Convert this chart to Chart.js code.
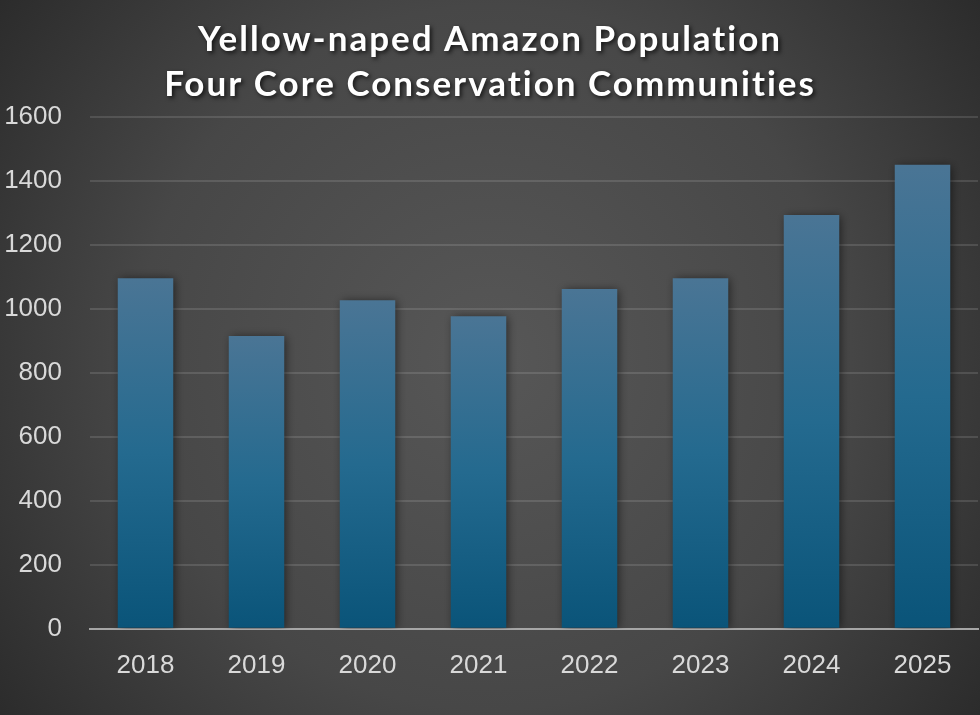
<!DOCTYPE html>
<html>
<head>
<meta charset="utf-8">
<script src="https://cdn.jsdelivr.net/npm/chart.js@4.4.1/dist/chart.umd.min.js"></script>
<style>
  html, body { margin: 0; padding: 0; background: #2a2a2a; }
  #wrap { width: 980px; height: 715px; }
</style>
</head>
<body>
<div id="wrap"><canvas id="c" width="980" height="715"></canvas></div>
<script>
const categories = ['2018', '2019', '2020', '2021', '2022', '2023', '2024', '2025'];
const populationValues = [1096, 915, 1027, 977, 1062, 1096, 1294, 1451];
const titleLines = ['Yellow-naped Amazon Population', 'Four Core Conservation Communities'];
const yTickMax = 1600;
const yTickStep = 200;

const bgPlugin = {
  id: 'bg',
  beforeDraw(chart) {
    const ctx = chart.ctx;
    const w = chart.width, h = chart.height;
    ctx.save();
    const g = ctx.createRadialGradient(w / 2, h / 2, 0, w / 2, h / 2, 640);
    g.addColorStop(0, '#575757');
    g.addColorStop(0.55, '#474747');
    g.addColorStop(1, '#282828');
    ctx.fillStyle = g;
    ctx.fillRect(0, 0, w, h);
    ctx.restore();
  }
};

const titlePlugin = {
  id: 'customTitle',
  afterDraw(chart) {
    const ctx = chart.ctx;
    ctx.save();
    ctx.font = 'bold 35px Lato, "Open Sans", sans-serif';
    ctx.textAlign = 'center';
    ctx.textBaseline = 'middle';
    if ('letterSpacing' in ctx) ctx.letterSpacing = '2px';
    ctx.fillStyle = '#ffffff';
    ctx.shadowColor = 'rgba(0,0,0,0.7)';
    ctx.shadowBlur = 4;
    ctx.shadowOffsetX = 2;
    ctx.shadowOffsetY = 2;
    ctx.fillText(titleLines[0], chart.width / 2, 40);
    ctx.fillText(titleLines[1], chart.width / 2, 85);
    ctx.restore();
  }
};

const shadowPlugin = {
  id: 'barShadow',
  beforeDatasetsDraw(chart) {
    const ctx = chart.ctx;
    ctx.save();
    ctx.shadowColor = 'rgba(0,0,0,0.55)';
    ctx.shadowBlur = 9;
    ctx.shadowOffsetX = 2;
    ctx.shadowOffsetY = 1;
  },
  afterDatasetsDraw(chart) {
    chart.ctx.restore();
  }
};

function barGradient(context) {
  const chart = context.chart;
  const ys = chart.scales && chart.scales.y;
  if (!ys || context.raw == null) return '#1e6187';
  const top = ys.getPixelForValue(context.raw);
  const base = ys.getPixelForValue(0);
  if (!isFinite(top) || !isFinite(base) || top === base) return '#1e6187';
  const g = chart.ctx.createLinearGradient(0, top, 0, base);
  g.addColorStop(0, '#4a7595');
  g.addColorStop(0.5, '#246a8f');
  g.addColorStop(1, '#0a5479');
  return g;
}

new Chart(document.getElementById('c'), {
  type: 'bar',
  data: {
    labels: categories,
    datasets: [{
      label: 'Population',
      data: populationValues,
      backgroundColor: barGradient,
      borderWidth: 0,
      categoryPercentage: 1.0,
      barPercentage: 0.5
    }]
  },
  options: {
    responsive: false,
    animation: false,
    layout: { padding: { top: 117, left: 6, right: 2, bottom: 13 } },
    plugins: {
      legend: { display: false },
      title: { display: false },
      tooltip: { enabled: false }
    },
    scales: {
      x: {
        grid: { display: false, drawTicks: false },
        border: { display: true, color: '#a6a6a6', width: 2 },
        ticks: {
          color: '#d9d9d9',
          font: { family: '"Liberation Sans", Arial, sans-serif', size: 26 },
          padding: 21
        }
      },
      y: {
        min: 0,
        max: yTickMax,
        afterFit: (scale) => { scale.width = 84; },
        grid: { color: 'rgba(255,255,255,0.12)', lineWidth: 2, drawTicks: false },
        border: { display: false },
        ticks: {
          stepSize: yTickStep,
          color: '#d9d9d9',
          font: { family: '"Liberation Sans", Arial, sans-serif', size: 26 },
          padding: 28,
          callback: (v) => String(v)
        }
      }
    }
  },
  plugins: [bgPlugin, shadowPlugin, titlePlugin]
});
</script>
</body>
</html>
